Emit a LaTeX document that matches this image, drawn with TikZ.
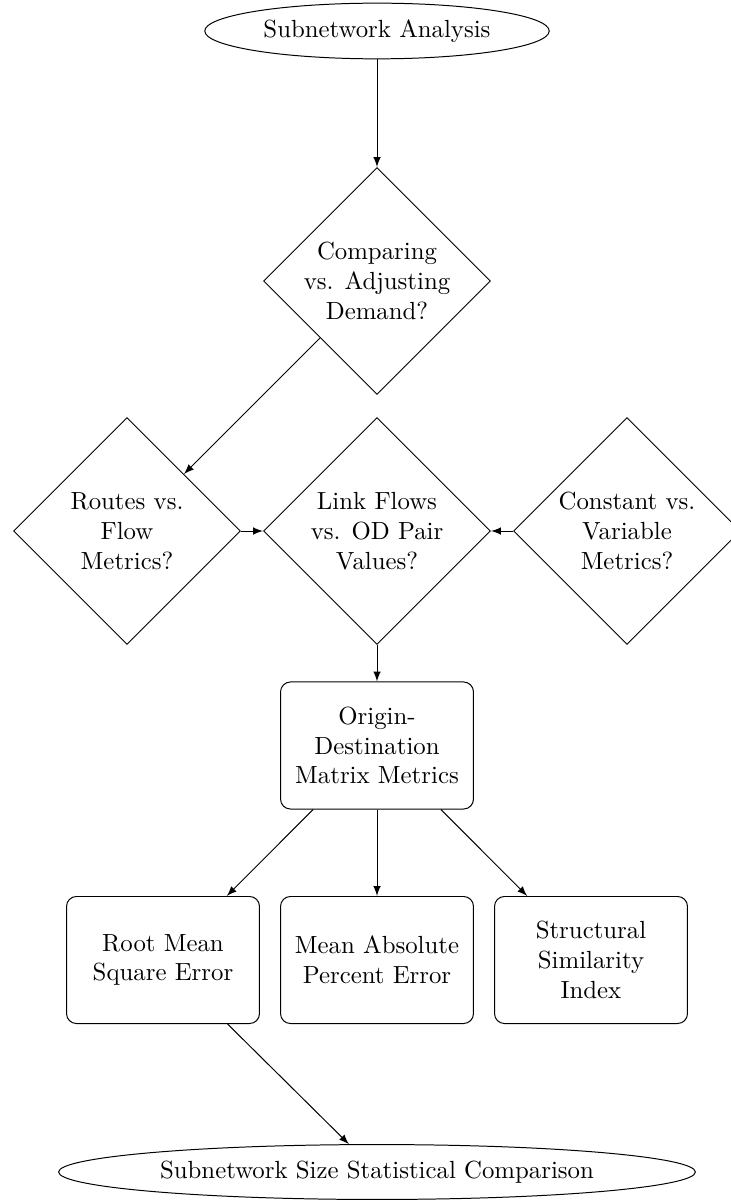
\documentclass[tikz,border=0pt]{standalone}
\usetikzlibrary{shapes.geometric,arrows}
\begin{document}
\begin{tikzpicture}[x=0.4032pt,y=-0.4032pt,
  terminal/.style={ellipse,draw,align=center},
  decision/.style={diamond,draw,align=center,inner sep=0pt,
    minimum width=91.5pt,minimum height=91.5pt},
  process/.style={rectangle,rounded corners,draw,align=center,
    minimum width=77.8pt,minimum height=1.8cm},
  link/.style={-latex,thin}]
\useasboundingbox (0,0) rectangle (730,1201);

% terminals
\node[terminal] (start) at (377,31) {Subnetwork Analysis};
\node[terminal] (final) at (377,1172) {Subnetwork Size Statistical Comparison};

% decisions
\node[decision] (q1) at (377,281) {Comparing\\vs. Adjusting\\Demand?};
\node[decision] (routes) at (127,531) {Routes vs.\\Flow\\Metrics?};
\node[decision] (links) at (377,531) {Link Flows\\vs. OD Pair\\Values?};
\node[decision] (const) at (627,531) {Constant vs.\\Variable\\Metrics?};

% processes
\node[process] (od) at (377,745.5) {Origin-\\Destination\\Matrix Metrics};
\node[process] (rmse) at (163,960) {Root Mean\\Square Error};
\node[process] (mape) at (377,960) {Mean Absolute\\Percent Error};
\node[process] (ssim) at (591,960) {Structural\\Similarity\\Index};

% connectors
\draw[link] (start) -- (q1);
\draw[link] (q1) -- (routes);
\draw[link] (routes) -- (links);
\draw[link] (const) -- (links);
\draw[link] (links) -- (od);
\draw[link] (od) -- (rmse);
\draw[link] (od) -- (mape);
\draw[link] (od) -- (ssim);
\draw[link] (rmse) -- (final);
\end{tikzpicture}
\end{document}
